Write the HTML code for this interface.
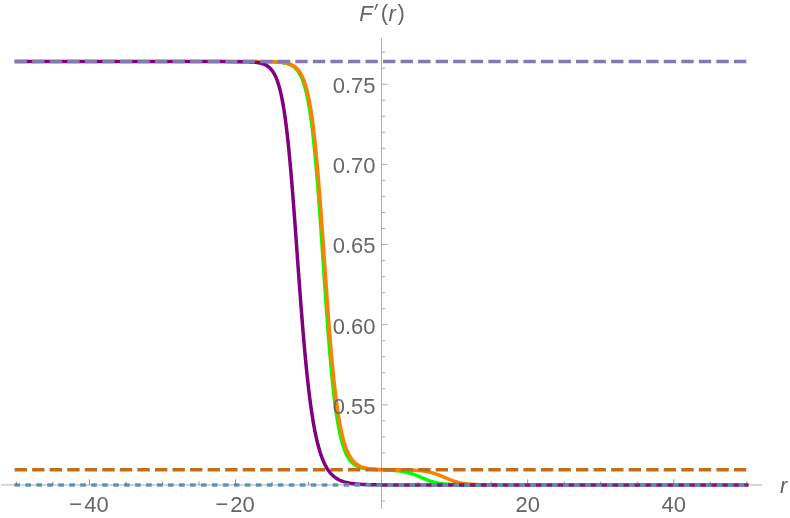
<!DOCTYPE html>
<html><head><meta charset="utf-8"><title>F'(r)</title>
<style>html,body{margin:0;padding:0;background:#fff;}svg{display:block;will-change:transform;}</style></head>
<body>
<svg width="790" height="518" viewBox="0 0 790 518">
<rect width="790" height="518" fill="#fff"/>
<g fill="none" stroke-width="3.50" stroke-linejoin="round" stroke-linecap="square">
<path d="M264.74 61.67 L265.47 61.68 L266.20 61.69 L266.93 61.70 L267.66 61.71 L268.39 61.73 L269.12 61.74 L269.85 61.76 L270.58 61.77 L271.31 61.79 L272.04 61.81 L272.77 61.84 L273.50 61.87 L274.23 61.90 L274.96 61.93 L275.69 61.97 L276.42 62.01 L277.15 62.05 L277.88 62.10 L278.61 62.16 L279.34 62.22 L280.07 62.30 L280.80 62.37 L281.54 62.46 L282.27 62.56 L283.00 62.67 L283.73 62.79 L284.46 62.92 L285.19 63.07 L285.92 63.24 L286.65 63.43 L287.38 63.63 L288.11 63.86 L288.84 64.12 L289.57 64.41 L290.30 64.72 L291.03 65.07 L291.76 65.47 L292.49 65.90 L293.22 66.39 L293.95 66.92 L294.68 67.52 L295.41 68.18 L296.14 68.92 L296.87 69.74 L297.60 70.64 L298.33 71.64 L299.06 72.76 L299.80 73.99 L300.53 75.35 L301.26 76.85 L301.99 78.52 L302.72 80.35 L303.45 82.37 L304.18 84.60 L304.91 87.05 L305.64 89.75 L306.37 92.70 L307.10 95.93 L307.83 99.47 L308.56 103.33 L309.29 107.53 L310.02 112.09 L310.75 117.03 L311.48 122.37 L312.21 128.13 L312.94 134.31 L313.67 140.93 L314.40 147.99 L315.13 155.49 L315.86 163.44 L316.59 171.81 L317.32 180.59 L318.06 189.76 L318.79 199.29 L319.52 209.14 L320.25 219.28 L320.98 229.64 L321.71 240.19 L322.44 250.86 L323.17 261.60 L323.90 272.34 L324.63 283.03 L325.36 293.61 L326.09 304.02 L326.82 314.21 L327.55 324.13 L328.28 333.75 L329.01 343.02 L329.74 351.92 L330.47 360.42 L331.20 368.51 L331.93 376.17 L332.66 383.41 L333.39 390.22 L334.12 396.60 L334.85 402.57 L335.58 408.13 L336.32 413.30 L337.05 418.10 L337.78 422.54 L338.51 426.64 L339.24 430.41 L339.97 433.89 L340.70 437.08 L341.43 440.01 L342.16 442.69 L342.89 445.15 L343.62 447.39 L344.35 449.44 L345.08 451.31 L345.81 453.01 L346.54 454.57 L347.27 455.98 L348.00 457.26 L348.73 458.43 L349.46 459.50 L350.19 460.46 L350.92 461.34 L351.65 462.13 L352.38 462.85 L353.11 463.51 L353.84 464.10 L354.58 464.64 L355.31 465.13 L356.04 465.57 L356.77 465.98 L357.50 466.34 L358.23 466.67 L358.96 466.97 L359.69 467.24 L360.42 467.48 L361.15 467.71 L361.88 467.91 L362.61 468.09 L363.34 468.26 L364.07 468.41 L364.80 468.55 L365.53 468.67 L366.26 468.78 L366.99 468.88 L367.72 468.98 L368.45 469.06 L369.18 469.14 L369.91 469.21 L370.64 469.27 L371.37 469.33 L372.10 469.39 L372.84 469.44 L373.57 469.48 L374.30 469.53 L375.03 469.57 L375.76 469.60 L376.49 469.64 L377.22 469.67 L377.95 469.70 L378.68 469.73 L379.41 469.76 L380.14 469.79 L380.87 469.81 L381.60 469.84 L382.33 469.87 L383.06 469.89 L383.79 469.92 L384.52 469.95 L385.25 469.98 L385.98 470.01 L386.71 470.04 L387.44 470.07 L388.17 470.10 L388.90 470.13 L389.63 470.17 L390.36 470.21 L391.10 470.25 L391.83 470.29 L392.56 470.34 L393.29 470.39 L394.02 470.44 L394.75 470.50 L395.48 470.56 L396.21 470.63 L396.94 470.70 L397.67 470.77 L398.40 470.85 L399.13 470.94 L399.86 471.03 L400.59 471.13 L401.32 471.24 L402.05 471.35 L402.78 471.47 L403.51 471.60 L404.24 471.74 L404.97 471.89 L405.70 472.04 L406.43 472.21 L407.16 472.38 L407.89 472.56 L408.62 472.76 L409.36 472.96 L410.09 473.17 L410.82 473.40 L411.55 473.63 L412.28 473.88 L413.01 474.13 L413.74 474.39 L414.47 474.66 L415.20 474.94 L415.93 475.23 L416.66 475.52 L417.39 475.82 L418.12 476.13 L418.85 476.43 L419.58 476.75 L420.31 477.06 L421.04 477.38 L421.77 477.69 L422.50 478.01 L423.23 478.32 L423.96 478.63 L424.69 478.93 L425.42 479.23 L426.15 479.52 L426.88 479.81 L427.62 480.09 L428.35 480.36 L429.08 480.62 L429.81 480.88 L430.54 481.12 L431.27 481.35 L432.00 481.58 L432.73 481.79 L433.46 481.99 L434.19 482.19 L434.92 482.37 L435.65 482.54 L436.38 482.71 L437.11 482.86 L437.84 483.01 L438.57 483.14 L439.30 483.27 L440.03 483.39 L440.76 483.51 L441.49 483.61 L442.22 483.71 L442.95 483.80 L443.68 483.89 L444.41 483.97 L445.14 484.04 L445.88 484.11 L446.61 484.17 L447.34 484.23 L448.07 484.29 L448.80 484.34 L449.53 484.38 L450.26 484.43 L450.99 484.47 L451.72 484.51 L452.45 484.54 L453.18 484.57 L453.91 484.60 L454.64 484.63 L455.37 484.65 L456.10 484.68 L456.83 484.70 L457.56 484.72 L458.29 484.74 L459.02 484.75 L459.75 484.77 L460.48 484.78 L461.21 484.80 L461.94 484.81 L462.67 484.82 L463.40 484.83 L464.14 484.84 L464.87 484.85 L465.60 484.86 L466.33 484.86 L467.06 484.87 L467.79 484.88 L468.52 484.88 L469.25 484.89 L469.98 484.89 L470.71 484.90 L471.44 484.90 L472.17 484.91 L472.90 484.91 L473.63 484.91 L474.36 484.92 L475.09 484.92 L475.82 484.92 L476.55 484.92" stroke="#00ff00" stroke-linecap="butt"/>
<path d="M235.52 61.60 L236.25 61.60 L236.98 61.60 L237.71 61.60 L238.44 61.60 L239.17 61.60 L239.90 61.60 L240.63 61.60 L241.36 61.60 L242.09 61.60 L242.82 61.60 L243.55 61.61 L244.28 61.61 L245.02 61.61 L245.75 61.61 L246.48 61.61 L247.21 61.61 L247.94 61.61 L248.67 61.61 L249.40 61.61 L250.13 61.61 L250.86 61.61 L251.59 61.61 L252.32 61.61 L253.05 61.61 L253.78 61.61 L254.51 61.62 L255.24 61.62 L255.97 61.62 L256.70 61.62 L257.43 61.62 L258.16 61.63 L258.89 61.63 L259.62 61.63 L260.35 61.63 L261.08 61.64 L261.81 61.64 L262.54 61.65 L263.28 61.65 L264.01 61.66 L264.74 61.66 L265.47 61.67 L266.20 61.68 L266.93 61.69 L267.66 61.70 L268.39 61.71 L269.12 61.72 L269.85 61.73 L270.58 61.75 L271.31 61.76 L272.04 61.78 L272.77 61.80 L273.50 61.82 L274.23 61.85 L274.96 61.88 L275.69 61.91 L276.42 61.94 L277.15 61.98 L277.88 62.03 L278.61 62.08 L279.34 62.13 L280.07 62.19 L280.80 62.26 L281.54 62.33 L282.27 62.41 L283.00 62.50 L283.73 62.61 L284.46 62.72 L285.19 62.85 L285.92 62.99 L286.65 63.15 L287.38 63.32 L288.11 63.52 L288.84 63.73 L289.57 63.98 L290.30 64.24 L291.03 64.54 L291.76 64.88 L292.49 65.25 L293.22 65.66 L293.95 66.11 L294.68 66.62 L295.41 67.18 L296.14 67.81 L296.87 68.50 L297.60 69.27 L298.33 70.13 L299.06 71.07 L299.80 72.12 L300.53 73.28 L301.26 74.57 L301.99 75.99 L302.72 77.56 L303.45 79.30 L304.18 81.21 L304.91 83.32 L305.64 85.63 L306.37 88.18 L307.10 90.97 L307.83 94.04 L308.56 97.39 L309.29 101.04 L310.02 105.02 L310.75 109.35 L311.48 114.05 L312.21 119.12 L312.94 124.60 L313.67 130.49 L314.40 136.80 L315.13 143.54 L315.86 150.71 L316.59 158.31 L317.32 166.33 L318.06 174.75 L318.79 183.57 L319.52 192.75 L320.25 202.26 L320.98 212.06 L321.71 222.11 L322.44 232.37 L323.17 242.77 L323.90 253.26 L324.63 263.79 L325.36 274.30 L326.09 284.74 L326.82 295.04 L327.55 305.16 L328.28 315.06 L329.01 324.68 L329.74 334.00 L330.47 342.98 L331.20 351.60 L331.93 359.83 L332.66 367.68 L333.39 375.11 L334.12 382.15 L334.85 388.77 L335.58 395.00 L336.32 400.83 L337.05 406.28 L337.78 411.36 L338.51 416.09 L339.24 420.48 L339.97 424.54 L340.70 428.31 L341.43 431.78 L342.16 434.99 L342.89 437.94 L343.62 440.66 L344.35 443.16 L345.08 445.45 L345.81 447.56 L346.54 449.49 L347.27 451.26 L348.00 452.88 L348.73 454.36 L349.46 455.72 L350.19 456.96 L350.92 458.09 L351.65 459.12 L352.38 460.07 L353.11 460.93 L353.84 461.72 L354.58 462.43 L355.31 463.09 L356.04 463.69 L356.77 464.23 L357.50 464.73 L358.23 465.18 L358.96 465.59 L359.69 465.97 L360.42 466.31 L361.15 466.62 L361.88 466.91 L362.61 467.17 L363.34 467.40 L364.07 467.62 L364.80 467.81 L365.53 467.99 L366.26 468.15 L366.99 468.30 L367.72 468.44 L368.45 468.56 L369.18 468.67 L369.91 468.77 L370.64 468.87 L371.37 468.95 L372.10 469.03 L372.84 469.10 L373.57 469.16 L374.30 469.22 L375.03 469.27 L375.76 469.32 L376.49 469.37 L377.22 469.41 L377.95 469.44 L378.68 469.48 L379.41 469.51 L380.14 469.54 L380.87 469.56 L381.60 469.59 L382.33 469.61 L383.06 469.63 L383.79 469.65 L384.52 469.66 L385.25 469.68 L385.98 469.69 L386.71 469.71 L387.44 469.72 L388.17 469.73 L388.90 469.74 L389.63 469.75 L390.36 469.76 L391.10 469.77 L391.83 469.78 L392.56 469.79 L393.29 469.80 L394.02 469.81 L394.75 469.81 L395.48 469.82 L396.21 469.83 L396.94 469.84 L397.67 469.85 L398.40 469.86 L399.13 469.87 L399.86 469.87 L400.59 469.88 L401.32 469.90 L402.05 469.91 L402.78 469.92 L403.51 469.93 L404.24 469.94 L404.97 469.96 L405.70 469.97 L406.43 469.99 L407.16 470.01 L407.89 470.03 L408.62 470.05 L409.36 470.07 L410.09 470.09 L410.82 470.12 L411.55 470.15 L412.28 470.18 L413.01 470.21 L413.74 470.24 L414.47 470.28 L415.20 470.32 L415.93 470.37 L416.66 470.41 L417.39 470.46 L418.12 470.52 L418.85 470.58 L419.58 470.64 L420.31 470.71 L421.04 470.79 L421.77 470.87 L422.50 470.95 L423.23 471.04 L423.96 471.14 L424.69 471.25 L425.42 471.36 L426.15 471.48 L426.88 471.61 L427.62 471.75 L428.35 471.89 L429.08 472.05 L429.81 472.21 L430.54 472.38 L431.27 472.57 L432.00 472.76 L432.73 472.96 L433.46 473.18 L434.19 473.40 L434.92 473.63 L435.65 473.88 L436.38 474.13 L437.11 474.39 L437.84 474.66 L438.57 474.94 L439.30 475.23 L440.03 475.52 L440.76 475.82 L441.49 476.13 L442.22 476.43 L442.95 476.75 L443.68 477.06 L444.41 477.38 L445.14 477.69 L445.88 478.01 L446.61 478.32 L447.34 478.63 L448.07 478.93 L448.80 479.23 L449.53 479.53 L450.26 479.81 L450.99 480.09 L451.72 480.36 L452.45 480.62 L453.18 480.88 L453.91 481.12 L454.64 481.35 L455.37 481.58 L456.10 481.79 L456.83 481.99 L457.56 482.19 L458.29 482.37 L459.02 482.54 L459.75 482.71 L460.48 482.86 L461.21 483.01 L461.94 483.14 L462.67 483.27 L463.40 483.39 L464.14 483.51 L464.87 483.61 L465.60 483.71 L466.33 483.80 L467.06 483.89 L467.79 483.97 L468.52 484.04 L469.25 484.11 L469.98 484.17 L470.71 484.23 L471.44 484.29 L472.17 484.34 L472.90 484.38 L473.63 484.43 L474.36 484.47 L475.09 484.51 L475.82 484.54 L476.55 484.57 L477.28 484.60 L478.01 484.63 L478.74 484.65 L479.47 484.68 L480.20 484.70 L480.93 484.72 L481.66 484.74 L482.40 484.75 L483.13 484.77 L483.86 484.78 L484.59 484.80 L485.32 484.81 L486.05 484.82 L486.78 484.83 L487.51 484.84 L488.24 484.85 L488.97 484.86 L489.70 484.86 L490.43 484.87 L491.16 484.88 L491.89 484.88 L492.62 484.89 L493.35 484.89 L494.08 484.90 L494.81 484.90 L495.54 484.91 L496.27 484.91 L497.00 484.91 L497.73 484.92 L498.46 484.92" stroke="#ff8000" stroke-linecap="butt"/>
<path d="M14.60 469.80 H749.00" stroke="#c56e1a" stroke-linecap="butt" stroke-dasharray="12.350 5.195"/>
<path d="M16.40 61.60 L31.01 61.60 L45.62 61.60 L60.22 61.60 L74.83 61.60 L89.44 61.60 L104.05 61.60 L118.66 61.60 L133.26 61.60 L147.87 61.60 L162.48 61.60 L177.09 61.60 L191.70 61.60 L206.30 61.60 L220.91 61.61 L235.52 61.64 L236.25 61.64 L236.98 61.64 L237.71 61.65 L238.44 61.66 L239.17 61.66 L239.90 61.67 L240.63 61.68 L241.36 61.69 L242.09 61.70 L242.82 61.71 L243.55 61.72 L244.28 61.73 L245.02 61.75 L245.75 61.77 L246.48 61.78 L247.21 61.81 L247.94 61.83 L248.67 61.86 L249.40 61.89 L250.13 61.92 L250.86 61.96 L251.59 62.00 L252.32 62.05 L253.05 62.10 L253.78 62.16 L254.51 62.22 L255.24 62.30 L255.97 62.38 L256.70 62.47 L257.43 62.57 L258.16 62.69 L258.89 62.81 L259.62 62.96 L260.35 63.12 L261.08 63.29 L261.81 63.49 L262.54 63.72 L263.28 63.96 L264.01 64.24 L264.74 64.55 L265.47 64.90 L266.20 65.28 L266.93 65.71 L267.66 66.19 L268.39 66.72 L269.12 67.32 L269.85 67.98 L270.58 68.72 L271.31 69.54 L272.04 70.45 L272.77 71.47 L273.50 72.60 L274.23 73.85 L274.96 75.24 L275.69 76.78 L276.42 78.48 L277.15 80.37 L277.88 82.45 L278.61 84.74 L279.34 87.27 L280.07 90.05 L280.80 93.10 L281.54 96.43 L282.27 100.08 L283.00 104.06 L283.73 108.39 L284.46 113.08 L285.19 118.15 L285.92 123.62 L286.65 129.50 L287.38 135.79 L288.11 142.50 L288.84 149.62 L289.57 157.15 L290.30 165.08 L291.03 173.39 L291.76 182.06 L292.49 191.06 L293.22 200.35 L293.95 209.90 L294.68 219.67 L295.41 229.60 L296.14 239.65 L296.87 249.76 L297.60 259.90 L298.33 270.00 L299.06 280.02 L299.80 289.93 L300.53 299.66 L301.26 309.20 L301.99 318.49 L302.72 327.53 L303.45 336.27 L304.18 344.71 L304.91 352.83 L305.64 360.61 L306.37 368.06 L307.10 375.16 L307.83 381.92 L308.56 388.35 L309.29 394.43 L310.02 400.19 L310.75 405.64 L311.48 410.77 L312.21 415.61 L312.94 420.16 L313.67 424.43 L314.40 428.45 L315.13 432.22 L315.86 435.75 L316.59 439.06 L317.32 442.15 L318.06 445.05 L318.79 447.75 L319.52 450.28 L320.25 452.65 L320.98 454.85 L321.71 456.91 L322.44 458.83 L323.17 460.63 L323.90 462.30 L324.63 463.86 L325.36 465.31 L326.09 466.66 L326.82 467.92 L327.55 469.10 L328.28 470.19 L329.01 471.21 L329.74 472.16 L330.47 473.05 L331.20 473.87 L331.93 474.64 L332.66 475.35 L333.39 476.02 L334.12 476.64 L334.85 477.21 L335.58 477.75 L336.32 478.25 L337.05 478.71 L337.78 479.15 L338.51 479.55 L339.24 479.92 L339.97 480.27 L340.70 480.60 L341.43 480.90 L342.16 481.18 L342.89 481.44 L343.62 481.69 L344.35 481.91 L345.08 482.12 L345.81 482.32 L346.54 482.50 L347.27 482.67 L348.00 482.83 L348.73 482.98 L349.46 483.12 L350.19 483.24 L350.92 483.36 L351.65 483.47 L352.38 483.57 L353.11 483.67 L353.84 483.76 L354.58 483.84 L355.31 483.92 L356.04 483.99 L356.77 484.06 L357.50 484.12 L358.23 484.18 L358.96 484.23 L359.69 484.28 L360.42 484.33 L361.15 484.37 L361.88 484.41 L362.61 484.45 L363.34 484.48 L364.07 484.52 L364.80 484.55 L365.53 484.57 L366.26 484.60 L366.99 484.62 L367.72 484.65 L368.45 484.67 L369.18 484.69 L369.91 484.71 L370.64 484.72 L371.37 484.74 L372.10 484.75 L372.84 484.77 L373.57 484.78 L374.30 484.79 L375.03 484.80 L375.76 484.81 L376.49 484.82 L377.22 484.83 L377.95 484.84 L378.68 484.85 L379.41 484.85 L380.14 484.86 L380.87 484.87 L381.60 484.87 L382.33 484.88 L383.06 484.88 L383.79 484.89 L384.52 484.89 L385.25 484.90 L385.98 484.90 L386.71 484.90 L387.44 484.91 L388.17 484.91 L388.90 484.91 L389.63 484.92 L390.36 484.92 L391.10 484.92 L391.83 484.92 L392.56 484.92 L393.29 484.93 L394.02 484.93 L394.75 484.93 L395.48 484.93 L396.21 484.93 L396.94 484.93 L397.67 484.93 L398.40 484.94 L399.13 484.94 L399.86 484.94 L400.59 484.94 L401.32 484.94 L402.05 484.94 L402.78 484.94 L403.51 484.94 L404.24 484.94 L404.97 484.94 L405.70 484.94 L406.43 484.94 L407.16 484.94 L407.89 484.94 L408.62 484.94 L409.36 484.94 L410.09 484.95 L410.82 484.95 L411.55 484.95 L412.28 484.95 L413.01 484.95 L413.74 484.95 L414.47 484.95 L415.20 484.95 L415.93 484.95 L416.66 484.95 L417.39 484.95 L418.12 484.95 L418.85 484.95 L419.58 484.95 L420.31 484.95 L421.04 484.95 L421.77 484.95 L422.50 484.95 L423.23 484.95 L423.96 484.95 L424.69 484.95 L425.42 484.95 L426.15 484.95 L426.88 484.95 L427.62 484.95 L428.35 484.95 L429.08 484.95 L429.81 484.95 L430.54 484.95 L431.27 484.95 L432.00 484.95 L432.73 484.95 L433.46 484.95 L434.19 484.95 L434.92 484.95 L435.65 484.95 L436.38 484.95 L437.11 484.95 L437.84 484.95 L438.57 484.95 L439.30 484.95 L440.03 484.95 L440.76 484.95 L441.49 484.95 L442.22 484.95 L442.95 484.95 L443.68 484.95 L444.41 484.95 L445.14 484.95 L445.88 484.95 L446.61 484.95 L447.34 484.95 L448.07 484.95 L448.80 484.95 L449.53 484.95 L450.26 484.95 L450.99 484.95 L451.72 484.95 L452.45 484.95 L453.18 484.95 L453.91 484.95 L454.64 484.95 L455.37 484.95 L456.10 484.95 L456.83 484.95 L457.56 484.95 L458.29 484.95 L459.02 484.95 L459.75 484.95 L460.48 484.95 L461.21 484.95 L461.94 484.95 L462.67 484.95 L463.40 484.95 L464.14 484.95 L464.87 484.95 L465.60 484.95 L466.33 484.95 L467.06 484.95 L467.79 484.95 L468.52 484.95 L469.25 484.95 L469.98 484.95 L470.71 484.95 L471.44 484.95 L472.17 484.95 L472.90 484.95 L473.63 484.95 L474.36 484.95 L475.09 484.95 L475.82 484.95 L476.55 484.95 L477.28 484.95 L478.01 484.95 L478.74 484.95 L479.47 484.95 L480.20 484.95 L480.93 484.95 L481.66 484.95 L482.40 484.95 L483.13 484.95 L483.86 484.95 L484.59 484.95 L485.32 484.95 L486.05 484.95 L486.78 484.95 L487.51 484.95 L488.24 484.95 L488.97 484.95 L489.70 484.95 L490.43 484.95 L491.16 484.95 L491.89 484.95 L492.62 484.95 L493.35 484.95 L494.08 484.95 L494.81 484.95 L495.54 484.95 L496.27 484.95 L497.00 484.95 L497.73 484.95 L498.46 484.95 L499.19 484.95 L499.92 484.95 L500.66 484.95 L501.39 484.95 L502.12 484.95 L502.85 484.95 L503.58 484.95 L504.31 484.95 L505.04 484.95 L505.77 484.95 L506.50 484.95 L507.23 484.95 L507.96 484.95 L508.69 484.95 L509.42 484.95 L510.15 484.95 L510.88 484.95 L511.61 484.95 L512.34 484.95 L513.07 484.95 L513.80 484.95 L514.53 484.95 L515.26 484.95 L515.99 484.95 L516.72 484.95 L517.45 484.95 L518.18 484.95 L518.92 484.95 L519.65 484.95 L520.38 484.95 L521.11 484.95 L521.84 484.95 L522.57 484.95 L523.30 484.95 L524.03 484.95 L524.76 484.95 L525.49 484.95 L526.22 484.95 L526.95 484.95 L527.68 484.95 L542.29 484.95 L556.90 484.95 L571.50 484.95 L586.11 484.95 L600.72 484.95 L615.33 484.95 L629.94 484.95 L644.54 484.95 L659.15 484.95 L673.76 484.95 L688.37 484.95 L702.98 484.95 L717.58 484.95 L732.19 484.95 L746.80 484.95" stroke="#800080"/>
<path d="M14.60 61.60 H749.00" stroke="#8778b3" stroke-linecap="butt" stroke-dasharray="12.350 5.195"/>
<path d="M14.40 484.95 H749.00" stroke="#5d9ec7" stroke-linecap="butt" stroke-dasharray="5.600 5.375"/>
</g>
<g stroke="#666" stroke-width="0.52" fill="none">
<path d="M1.06 484.95 H762.1"/>
<path d="M381.5 38.1 V508.7"/>
<path d="M382 500.98 h3.20M382 468.92 h3.20M382 452.89 h3.20M382 436.87 h3.20M382 420.84 h3.20M382 404.81 h5.70M382 388.78 h3.20M382 372.75 h3.20M382 356.73 h3.20M382 340.70 h3.20M382 324.67 h5.70M382 308.64 h3.20M382 292.61 h3.20M382 276.59 h3.20M382 260.56 h3.20M382 244.53 h5.70M382 228.50 h3.20M382 212.47 h3.20M382 196.45 h3.20M382 180.42 h3.20M382 164.39 h5.70M382 148.36 h3.20M382 132.33 h3.20M382 116.31 h3.20M382 100.28 h3.20M382 84.25 h5.70M382 68.22 h3.20M382 52.19 h3.20"/>
<path d="M16.40 484.95 v-3.30M52.92 484.95 v-3.30M89.44 484.95 v-5.60M125.96 484.95 v-3.30M162.48 484.95 v-3.30M199.00 484.95 v-3.30M235.52 484.95 v-5.60M272.04 484.95 v-3.30M308.56 484.95 v-3.30M345.08 484.95 v-3.30M418.12 484.95 v-3.30M454.64 484.95 v-3.30M491.16 484.95 v-3.30M527.68 484.95 v-5.60M564.20 484.95 v-3.30M600.72 484.95 v-3.30M637.24 484.95 v-3.30M673.76 484.95 v-5.60M710.28 484.95 v-3.30M746.80 484.95 v-3.30" stroke-width="0.75"/>
</g>
<g font-family="'Liberation Sans', sans-serif" font-size="22.0" fill="#666" opacity="0.999">
<text transform="translate(375.60 413.76) scale(1 1.045)" text-anchor="end">0.55</text>
<text transform="translate(375.60 333.62) scale(1 1.045)" text-anchor="end">0.60</text>
<text transform="translate(375.60 253.48) scale(1 1.045)" text-anchor="end">0.65</text>
<text transform="translate(375.60 173.34) scale(1 1.045)" text-anchor="end">0.70</text>
<text transform="translate(375.60 93.20) scale(1 1.045)" text-anchor="end">0.75</text>
<text transform="translate(69.34 512.40) scale(1 1.045)">−</text>
<text transform="translate(84.14 512.40) scale(1 1.045)">40</text>
<text transform="translate(215.42 512.40) scale(1 1.045)">−</text>
<text transform="translate(230.22 512.40) scale(1 1.045)">20</text>
<text transform="translate(527.68 512.40) scale(1 1.045)" text-anchor="middle">20</text>
<text transform="translate(673.76 512.40) scale(1 1.045)" text-anchor="middle">40</text>
<text transform="translate(359.30 20.70) scale(1 1.000)" font-style="italic">F</text>
<path d="M378.3 4.1 L376.3 4.1 L374.2 10.1 L375.4 10.1 Z" stroke="none"/>
<text x="380.8" y="20.0">(</text>
<text transform="translate(388.60 20.70) scale(1 1.000)" font-style="italic">r</text>
<text x="397.4" y="20.0">)</text>
<text transform="translate(779.90 492.90) scale(1 1.000)" font-style="italic">r</text>
</g>
</svg>
</body></html>
